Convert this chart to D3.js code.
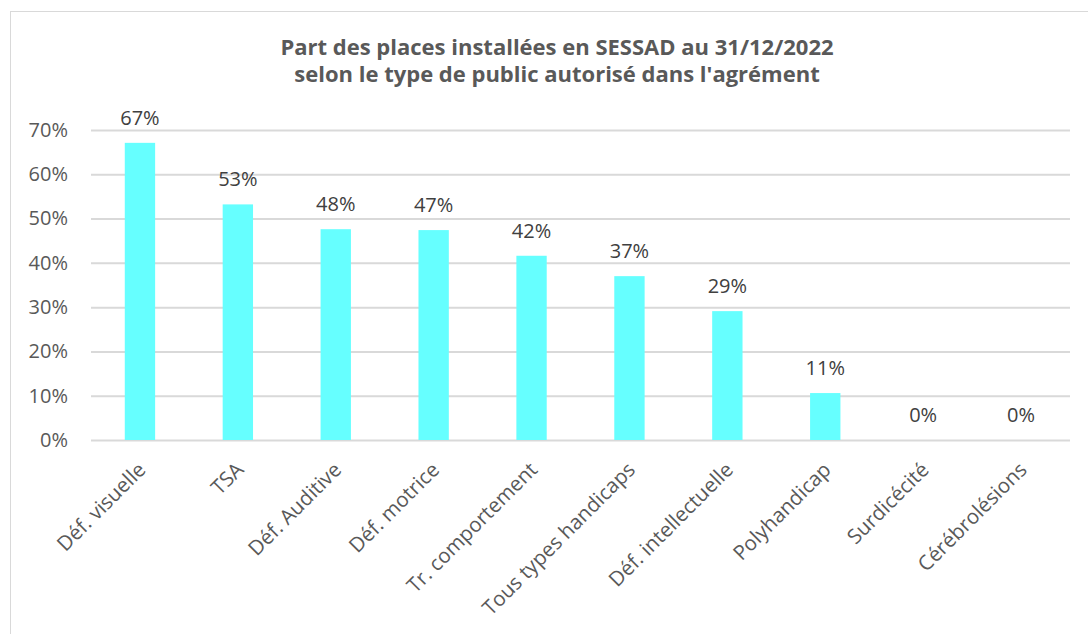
<!DOCTYPE html>
<html>
<head>
<meta charset="utf-8">
<script src="https://cdn.jsdelivr.net/npm/d3@7"></script>
<style>
  body { margin: 0; background: #fff; }
  svg text { font-family: "Open Sans", "Noto Sans", sans-serif; }
</style>
</head>
<body>
<div id="chart"></div>
<script>
var svgWidth = 1088;
var svgHeight = 634;

// data
var categories = ["Déf. visuelle", "TSA", "Déf. Auditive", "Déf. motrice", "Tr. comportement",
  "Tous types handicaps", "Déf. intellectuelle", "Polyhandicap", "Surdicécité", "Cérébrolésions"];
var shares = [0.671, 0.532, 0.476, 0.474, 0.416, 0.370, 0.291, 0.106, 0, 0];
var yTicks = [0, 0.1, 0.2, 0.3, 0.4, 0.5, 0.6, 0.7];
var titleLines = ["Part des places installées en SESSAD au 31/12/2022",
  "selon le type de public autorisé dans l'agrément"];

var margin = { top: 130, right: 18, bottom: 194, left: 91 };
var width = svgWidth - margin.left - margin.right;
var height = svgHeight - margin.top - margin.bottom;

var svg = d3.select("#chart")
  .append("svg")
  .attr("width", svgWidth)
  .attr("height", svgHeight);

// chart frame
svg.append("rect")
  .attr("x", 10.5)
  .attr("y", 11.5)
  .attr("width", 1100)
  .attr("height", 700)
  .attr("fill", "none")
  .attr("stroke", "#d9d9d9")
  .attr("stroke-width", 1);

var chartGroup = svg.append("g")
  .attr("transform", `translate(${margin.left}, ${margin.top})`);

var xScale = d3.scaleBand()
  .domain(categories)
  .range([0, width])
  .paddingInner(0.69)
  .paddingOuter(0.345);

var yScale = d3.scaleLinear()
  .domain([0, 0.7])
  .range([height, 0]);

// gridlines + y labels
var yAxis = d3.axisLeft(yScale)
  .tickValues(yTicks)
  .tickSize(-width)
  .tickPadding(23)
  .tickFormat(d3.format(".0%"));

var yG = chartGroup.append("g").call(yAxis);
yG.select(".domain").remove();
yG.selectAll(".tick line").attr("stroke", "#d9d9d9").attr("stroke-width", 2);
yG.selectAll(".tick text")
  .attr("fill", "#595959")
  .style("font-size", "20px");

// bars
chartGroup.selectAll("rect.bar")
  .data(shares)
  .enter()
  .append("rect")
  .attr("class", "bar")
  .attr("x", (d, i) => xScale(categories[i]))
  .attr("y", d => yScale(d))
  .attr("width", xScale.bandwidth())
  .attr("height", d => height - yScale(d))
  .attr("fill", "#66ffff");

// value labels
chartGroup.selectAll("text.val")
  .data(shares)
  .enter()
  .append("text")
  .attr("class", "val")
  .attr("x", (d, i) => xScale(categories[i]) + xScale.bandwidth() / 2)
  .attr("y", d => yScale(d) - 18)
  .attr("text-anchor", "middle")
  .attr("fill", "#404040")
  .style("font-size", "20px")
  .text(d => d3.format(".0%")(d));

// x labels, rotated
chartGroup.selectAll("text.cat")
  .data(categories)
  .enter()
  .append("text")
  .attr("class", "cat")
  .attr("transform", d => `translate(${xScale(d) + xScale.bandwidth() / 2 + 7}, ${height + 31}) rotate(-45)`)
  .attr("text-anchor", "end")
  .attr("fill", "#595959")
  .style("font-size", "20.5px")
  .text(d => d);

// title
svg.append("text")
  .attr("x", 557)
  .attr("y", 55)
  .attr("text-anchor", "middle")
  .attr("fill", "#595959")
  .style("font-size", "22px")
  .style("font-weight", "bold")
  .selectAll("tspan")
  .data(titleLines)
  .enter()
  .append("tspan")
  .attr("x", 557)
  .attr("dy", (d, i) => i === 0 ? 0 : 27)
  .text(d => d);
</script>
</body>
</html>
